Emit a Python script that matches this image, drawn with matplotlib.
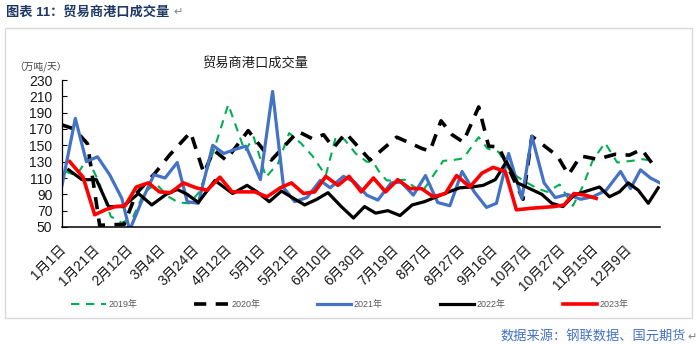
import matplotlib
matplotlib.use("Agg")
import matplotlib.pyplot as plt
import matplotlib.transforms as mtransforms
from matplotlib.lines import Line2D
from matplotlib.patches import Rectangle

plt.rcParams['font.family'] = ['Liberation Sans', 'Noto Sans CJK SC', 'DejaVu Sans']

# x axis: ordinal position of the observation dates (one label every 3 positions)
tick_labels = ['1月1日', '1月21日', '2月12日', '3月4日', '3月24日', '4月12日', '5月1日',
               '5月21日', '6月10日', '6月30日', '7月19日', '8月7日', '8月27日', '9月16日',
               '10月7日', '10月27日', '11月15日', '12月9日']
label_step = 3
x_end = 53.96

years = ['2019年', '2020年', '2021年', '2022年', '2023年']

x2019 = [0.3, 1.3, 2.3, 3.3, 4.4, 5.4, 6.4, 7.4, 8.5, 9.5, 10.5, 11.5, 12.4, 13.6, 14.4,
         15.0, 16.5, 17.3, 18.4, 19.5, 20.5, 21.6, 22.6, 23.8, 24.7, 25.5, 26.5, 27.5,
         28.1, 28.7, 29.3, 30.3, 30.9, 31.9, 32.6, 33.7, 34.4, 35.3, 36.2, 37.6, 38.4,
         39.4, 40.5, 41.6, 42.9, 43.8, 44.9, 46.1, 47.0, 47.9, 49.0, 50.1, 51.4, 52.4, 53.4]
y2019 = [118, 113, 134, 106, 63, 55, 62, 92, 103, 88, 80, 79, 93, 140, 174,
         200, 143, 160, 111, 128, 165, 152, 137, 113, 160, 157, 140, 130,
         129, 116, 107, 107, 108, 98, 95, 117, 131, 132, 134, 160, 146,
         142, 117, 107, 97, 93, 102, 76, 100, 132, 153, 129, 131, 133, 131]

x2020 = [0, 1.1, 2.3, 3.4, 4.5, 5.6, 6.7, 8.4, 9.7, 11.6, 12.8, 13.7, 14.8, 16.8, 18.9,
         21.3, 22.6, 23.6, 24.5, 25.6, 27.8, 30.2, 31.2, 32.5, 33.2, 34.2, 35.2, 36.2,
         37.6, 38.5, 39.4, 41.6, 42.4, 44.7, 45.7, 46.8, 48.3, 49.9, 51.2, 52.3, 53.3]
y2020 = [175, 170, 152, 52, 53, 53, 91, 116, 138, 166, 116, 144, 132, 168, 132,
         167, 158, 163, 147, 165, 132, 160, 154, 146, 143, 180, 163, 154,
         197, 149, 148, 84, 161, 137, 114, 137, 133, 139, 138, 145, 127]

x2021 = [0, 1.2, 2.2, 3.2, 4.3, 5.4, 6.1, 7.2, 8.3, 9.3, 10.4, 11.3, 12.3, 13.6, 14.6,
         15.6, 16.6, 17.9, 19.0, 20.0, 21.0, 22.1, 23.3, 24.2, 25.4, 26.4, 27.5, 28.5,
         29.7, 30.6, 31.7, 32.8, 33.9, 35.0, 36.1, 37.2, 38.3, 39.2, 40.3, 41.5, 42.4,
         43.5, 44.5, 45.6, 46.8, 47.9, 49.1, 50.4, 51.3, 52.2, 53.1, 53.96]
y2021 = [101, 183, 130, 136, 114, 85, 46, 82, 114, 110, 129, 81, 79, 150, 140,
         145, 149, 108, 216, 98, 81, 86, 107, 98, 112, 105, 89, 83,
         104, 105, 89, 113, 80, 76, 118, 93, 74, 79, 140, 85, 161,
         104, 86, 90, 84, 87, 95, 118, 97, 120, 110, 104]

x2022 = [0.6, 1.8, 3.1, 4.2, 5.5, 6.9, 8.1, 9.4, 10.4, 11.3, 12.3, 13.8, 15.4, 16.7,
         17.6, 18.7, 19.8, 20.9, 21.9, 23.0, 24.0, 25.2, 26.3, 27.3, 28.3, 29.4, 30.5,
         31.6, 32.7, 33.8, 34.9, 35.9, 37.0, 38.0, 39.1, 40.1, 41.1, 42.2, 43.3, 44.2,
         45.2, 46.2, 47.1, 48.5, 49.4, 50.3, 51.1, 52.0, 52.9, 53.8]
y2022 = [120, 108, 108, 75, 75, 91, 77, 90, 96, 90, 80, 107, 91, 101,
         93, 81, 94, 85, 77, 84, 92, 75, 61, 75, 67, 70, 64,
         77, 81, 87, 93, 98, 99, 101, 108, 130, 104, 97, 90, 79,
         75, 89, 93, 99, 87, 93, 104, 95, 79, 98]

x2023 = [0.7, 1.9, 2.95, 3.9, 4.8, 5.7, 6.7, 7.8, 8.8, 9.8, 10.95, 12.1, 13.1, 14.25,
         15.35, 16.4, 17.4, 18.5, 19.7, 20.7, 21.8, 22.8, 23.8, 24.9, 25.9, 27.0, 28.1,
         29.2, 30.3, 31.4, 32.45, 33.5, 34.6, 35.6, 36.8, 37.9, 38.9, 40.0, 41.0, 42.4,
         43.4, 44.4, 45.3, 46.2, 47.2, 48.2]
y2023 = [130, 111, 65, 71, 75, 76, 99, 104, 93, 92, 104, 98, 95, 111,
         93, 93, 93, 87, 98, 104, 91, 93, 112, 101, 112, 93, 110,
         93, 108, 97, 97, 87, 91, 113, 99, 116, 123, 118, 71, 73,
         74, 75, 77, 91, 89, 85]

y_ticks = list(range(50, 231, 20))

W, H = 698, 346
fig = plt.figure(figsize=(W / 100, H / 100), dpi=100)
fig.patch.set_facecolor('white')

# outer frame of the chart object
fig.add_artist(Rectangle((5 / W, 1 - 318 / H), 687 / W, 290 / H, transform=fig.transFigure,
                         fill=False, ec='#D9D9D9', lw=1.0))

ax = fig.add_axes([62 / W, 1 - 227 / H, 598 / W, 147 / H])

styles = [
    dict(color='#00B050', lw=1.5, ls=(0, (4, 3.2))),
    dict(color='#000000', lw=2.6, ls=(0, (3.4, 2.6))),
    dict(color='#4472C4', lw=2.3, ls='-'),
    dict(color='#000000', lw=2.3, ls='-'),
    dict(color='#FF0000', lw=2.6, ls='-'),
]
series = [(x2019, y2019), (x2020, y2020), (x2021, y2021), (x2022, y2022), (x2023, y2023)]

handles = []
for (xs, ys), st, name in zip(series, styles, years):
    ax.plot(xs, ys, color=st['color'], lw=st['lw'], ls=st['ls'],
            solid_joinstyle='round', dash_joinstyle='round', label=name)
    handles.append(Line2D([], [], color=st['color'], lw=st['lw'], ls=st['ls']))

ax.set_xlim(0, x_end)
ax.set_ylim(50, 230)
ax.set_yticks(y_ticks)
ax.set_yticklabels([str(v) for v in y_ticks], fontsize=10, color='#1a1a1a')
ax.tick_params(axis='y', direction='in', length=3.5, width=0.8, pad=7)

ticks = [i * label_step for i in range(len(tick_labels))]
ax.set_xticks(ticks)
ax.set_xticklabels(tick_labels, fontsize=10, color='#1a1a1a', rotation=45,
                   ha='right', va='top', rotation_mode='anchor')
ax.tick_params(axis='x', length=0, pad=11)
offset = mtransforms.ScaledTranslation(-3 / 100, 0, fig.dpi_scale_trans)
for lab in ax.get_xticklabels():
    lab.set_transform(lab.get_transform() + offset)

for s in ['top', 'right']:
    ax.spines[s].set_visible(False)
ax.spines['left'].set_linewidth(0.9)
ax.spines['bottom'].set_linewidth(1.1)
ax.patch.set_alpha(0)

# texts
fig.text(6 / W, 1 - 12 / H, '图表 11：贸易商港口成交量', fontsize=9.5, fontweight='bold',
         color='#1F3864', ha='left', va='center',
         family=['Liberation Sans', 'Noto Sans CJK SC'])
fig.text(173 / W, 1 - 12 / H, '↵', fontsize=8, color='#808080', ha='left', va='center',
         family=['DejaVu Sans'])
fig.text(255 / W, 1 - 63 / H, '贸易商港口成交量', fontsize=9.5, color='#1a1a1a',
         ha='center', va='center')
fig.text(14 / W, 1 - 67 / H, '（万吨/天）', fontsize=7, color='#404040', ha='left', va='center',
         family=['Noto Sans CJK SC', 'DejaVu Sans'])
fig.text(686 / W, 1 - 337 / H, '数据来源：钢联数据、国元期货', fontsize=9.5, color='#4472C4',
         ha='right', va='center')
fig.text(687 / W, 1 - 337 / H, '↵', fontsize=8, color='#808080', ha='left', va='center',
         family=['DejaVu Sans'])

fig.legend(handles=handles, labels=years, loc='center', bbox_to_anchor=(350 / W, 1 - 305 / H),
           ncol=5, frameon=False, fontsize=6.5, handlelength=3.8, handletextpad=0.3,
           columnspacing=6.3, labelcolor='#595959')

fig.savefig('out.png', dpi=100, facecolor='white')
